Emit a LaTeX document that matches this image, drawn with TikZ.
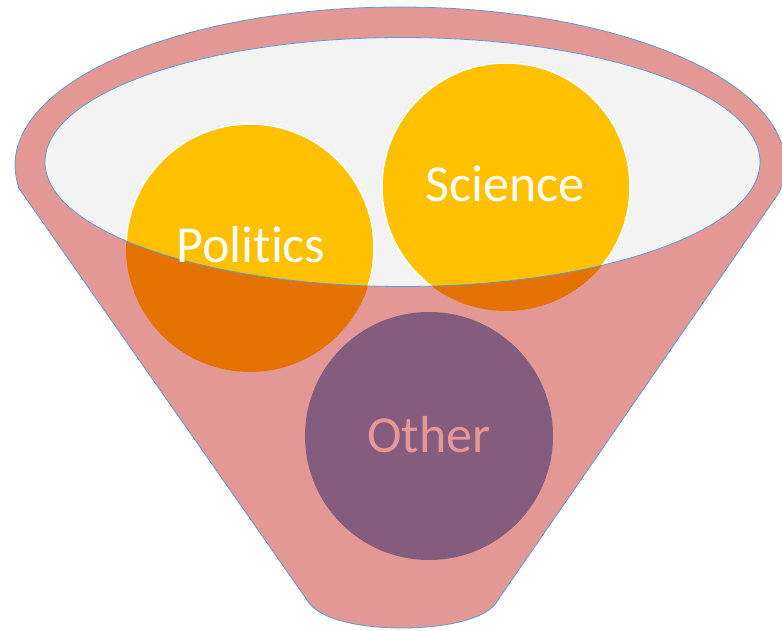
\documentclass[tikz,border=0pt]{standalone}
\usepackage{fontspec}
\setmainfont{Carlito}[Ligatures=NoCommon]
\definecolor{funnelpink}{HTML}{E49896}
\definecolor{edgeblue}{HTML}{5B9BD5}
\definecolor{rimgray}{HTML}{F3F3F3}
\definecolor{ballyellow}{HTML}{FFC000}
\definecolor{ballorange}{HTML}{E47200}
\definecolor{ballpurple}{HTML}{845C7E}
\tikzset{
  label text/.style={font=\fontsize{52}{60}\selectfont, anchor=base, inner sep=0pt},
  ball/.style={circle, minimum size=248pt, inner sep=0pt},
}
\begin{document}
\begin{tikzpicture}[x=1pt,y=1pt]
\useasboundingbox (0,0) rectangle (782,630);
% funnel body
\coordinate (fl) at (18,443);
\coordinate (bl) at (307,30);
\coordinate (br) at (498,30);
\coordinate (fr) at ({400+385*cos(10)},{465-158*sin(10)});
\filldraw[fill=funnelpink, draw=edgeblue, line width=0.8pt]
  (fl) -- (bl) .. controls (318,10) and (362,2) .. (402,2)
  .. controls (442,2) and (488,10) .. (br) -- (fr)
  arc[start angle=-10, end angle=188, x radius=385pt, y radius=158pt] -- cycle;
% inner rim
\fill[rimgray] (402.5,468) ellipse [x radius=357.5pt, y radius=124.5pt];
% other ball
\node[ball, fill=ballpurple] (other) at (429,194) {};
% politics and science balls
\node[ball, fill=ballorange] (politics) at (250,382) {};
\node[ball, fill=ballorange] (science) at (506,443) {};
\begin{scope}
  \clip (402.5,468) ellipse [x radius=357.5pt, y radius=124.5pt];
  \node[ball, fill=ballyellow, draw=white, line width=1.5pt] at (politics) {};
  \node[ball, fill=ballyellow, draw=white, line width=1.5pt] at (science) {};
\end{scope}
\draw[edgeblue, line width=0.8pt] (402.5,468) ellipse [x radius=357.5pt, y radius=124.5pt];
% labels
\node[label text, text=white] (tpol) at (251,367) {Politics};
\node[label text, text=white] (tsci) at (505,428) {Science};
\node[label text, text=funnelpink] (toth) at (429,178) {Other};
\end{tikzpicture}
\end{document}
